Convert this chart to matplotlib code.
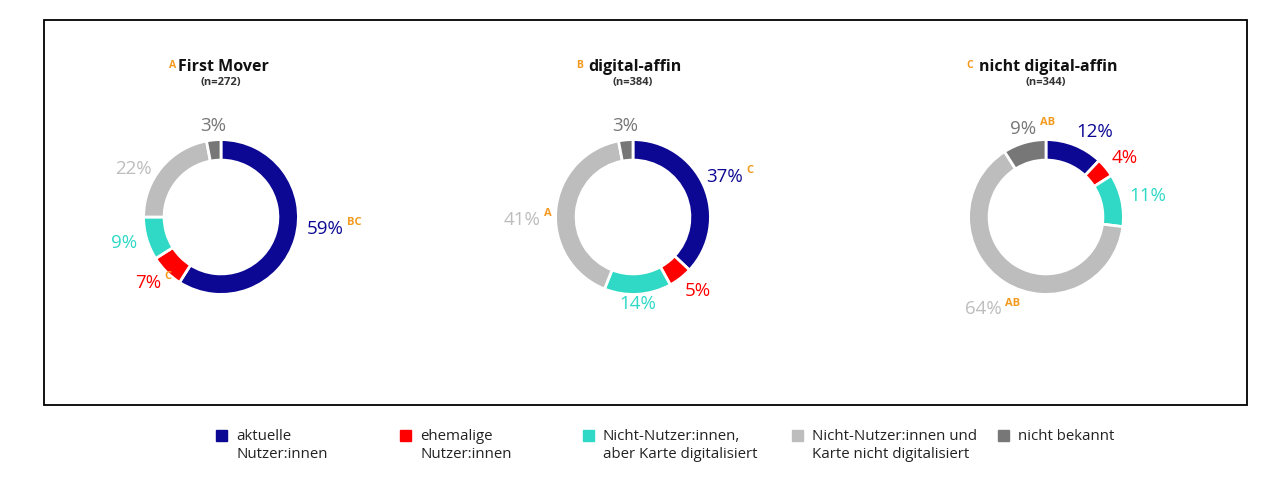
import numpy as np
import matplotlib.pyplot as plt
from matplotlib.patches import Rectangle

# Daten
kategorien = ['aktuelle\nNutzer:innen', 'ehemalige\nNutzer:innen',
              'Nicht-Nutzer:innen,\naber Karte digitalisiert',
              'Nicht-Nutzer:innen und\nKarte nicht digitalisiert', 'nicht bekannt']
farben = ['#0c0893', '#ff0000', '#2fd9c6', '#bdbdbd', '#777777']

gruppen = ['First Mover', 'digital-affin', 'nicht digital-affin']
gruppen_kennung = ['A', 'B', 'C']
n_werte = [272, 384, 344]

first_mover = [59, 7, 9, 22, 3]
digital_affin = [37, 5, 14, 41, 3]
nicht_digital_affin = [12, 4, 11, 64, 9]
werte = [first_mover, digital_affin, nicht_digital_affin]

# Signifikanz-Hochzeichen je Segment
hoch_first = ['BC', 'C', '', '', '']
hoch_digital = ['C', '', '', 'A', '']
hoch_nicht = ['', '', '', 'AB', 'AB']
hochzeichen = [hoch_first, hoch_digital, hoch_nicht]

# kleine Verschiebungen der Beschriftungen (Pixel, x nach rechts, y nach unten)
schub = [
    [(4, -12), (0, 6), (-2, 2), (-4, 6), (0, 0)],
    [(-5, -6), (0, 7), (0, -4), (-8, 11), (0, 0)],
    [(0, 0), (0, -5), (0, -2), (0, 14), (0, 0)],
]

orange = '#f39a1e'
plt.rcParams['font.family'] = ['Open Sans', 'DejaVu Sans']

W, H = 1280, 478
fig = plt.figure(figsize=(W / 100, H / 100), dpi=100)

# Rahmen
fig.add_artist(Rectangle((44 / W, 1 - 405 / H), 1203 / W, 385 / H,
                         transform=fig.transFigure, fill=False,
                         edgecolor='black', linewidth=1.3))

zentren_x = [221, 633, 1046]
zentrum_y = 217
size = 240
px = 72 / 100  # Pixel -> Punkte

for i, (vals, name) in enumerate(zip(werte, gruppen)):
    cx = zentren_x[i]
    ax = fig.add_axes([(cx - size / 2) / W, 1 - (zentrum_y + size / 2) / H,
                       size / W, size / H])
    wedges, _ = ax.pie(vals, colors=farben, startangle=90, counterclock=False,
                       radius=1.0,
                       wedgeprops=dict(width=0.265, edgecolor='white', linewidth=2))
    ax.set_xlim(-1.55, 1.55)
    ax.set_ylim(-1.55, 1.55)
    ax.set_aspect('equal')
    ax.axis('off')

    for w, v, col, sup, (dx, dy) in zip(wedges, vals, farben, hochzeichen[i], schub[i]):
        ang = np.deg2rad((w.theta1 + w.theta2) / 2)
        c, s = np.cos(ang), np.sin(ang)
        ha = 'left' if c > 0.3 else ('right' if c < -0.3 else 'center')
        if abs(s) > 0.8:
            r = 1.06
            va = 'bottom' if s > 0 else 'top'
        else:
            r = 1.1
            va = 'center'
        t = ax.annotate(f'{v}%', xy=(r * c, r * s), xytext=(dx * px, -dy * px),
                        textcoords='offset points', color=col, fontsize=13.5,
                        ha=ha, va=va)
        if sup:
            ax.annotate(sup, xy=(1, 1), xycoords=t, xytext=(2.5, 2),
                        textcoords='offset points', color=orange,
                        fontsize=8, fontweight='bold', ha='left', va='top')

    tt = fig.text(cx / W + 2 / W, 1 - 67 / H, name, fontsize=11.5, fontweight='bold',
                  ha='center', va='center', color='#111111')
    fig.text(cx / W, 1 - 83 / H, f'(n={n_werte[i]})', fontsize=8,
             fontweight='bold', ha='center', va='center', color='#333333')
    ax.annotate(gruppen_kennung[i], xy=(0, 0.92), xycoords=tt,
                xytext=(-1 if i == 0 else -4, 0),
                textcoords='offset points', color=orange, fontsize=7.5,
                fontweight='bold', ha='right', va='top')

# Legende
legend_x = [216, 400, 583, 792, 998]
for x, kat, col in zip(legend_x, kategorien, farben):
    fig.add_artist(Rectangle((x / W, 1 - 441 / H), 11 / W, 11 / H,
                             transform=fig.transFigure, color=col))
    fig.text((x + 20) / W, 1 - 429 / H, kat, fontsize=10.8, va='top', ha='left',
             color='#222222', linespacing=1.3)

fig.savefig('out.png', dpi=100)
